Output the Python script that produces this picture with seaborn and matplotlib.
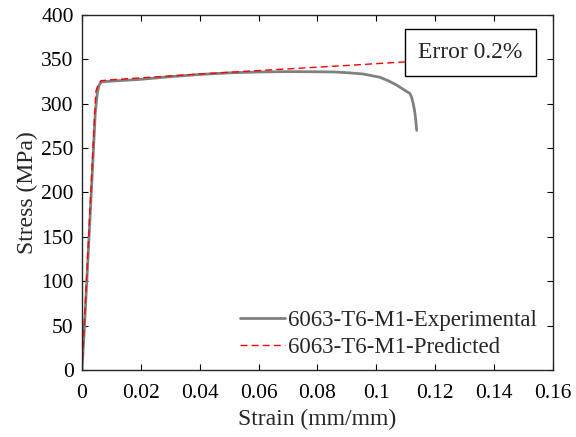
import numpy as np
import pandas as pd
import seaborn as sns
import matplotlib.pyplot as plt

# ---------------------------------------------------------
# DATA
# ---------------------------------------------------------

exp_strain = [0.0, 0.0010, 0.0030, 0.0045, 0.0052, 0.0058, 0.0065, 0.0080,
              0.010, 0.020, 0.030, 0.040, 0.050, 0.060, 0.070, 0.080,
              0.0856, 0.090, 0.0956, 0.1012, 0.1040, 0.1069, 0.1095, 0.1114,
              0.1120, 0.1125, 0.1130, 0.1134, 0.1137]
exp_stress = [0.0, 60.0, 190.0, 290.0, 312.0, 321.0, 324.5, 325.0,
              325.5, 327.5, 330.5, 333.0, 334.8, 335.8, 336.2, 336.0,
              335.8, 335.0, 333.5, 329.8, 326.0, 321.0, 315.5, 311.5,
              307.0, 300.5, 292.0, 281.0, 270.0]

pred_strain = [0.0, 0.0047, 0.0055, 0.0065, 0.010, 0.040, 0.0893, 0.114]
pred_stress = [0.0, 314.0, 322.0, 326.0, 327.0, 333.5, 343.0, 348.0]

exp_label = "6063-T6-M1-Experimental"
pred_label = "6063-T6-M1-Predicted"
error_text = "Error 0.2%"

x_ticks = [0, 0.02, 0.04, 0.06, 0.08, 0.1, 0.12, 0.14, 0.16]
x_tick_labels = ["0", "0.02", "0.04", "0.06", "0.08", "0.1", "0.12", "0.14", "0.16"]
y_ticks = [0, 50, 100, 150, 200, 250, 300, 350, 400]

# ---------------------------------------------------------
# PLOT
# ---------------------------------------------------------

sns.set_style("ticks")
plt.rcParams["font.family"] = ["Liberation Serif", "DejaVu Serif"]

df_exp = pd.DataFrame({"Strain": exp_strain, "Stress": exp_stress})
df_pred = pd.DataFrame({"Strain": pred_strain, "Stress": pred_stress})

fig = plt.figure(figsize=(5.76, 4.37), dpi=100)
ax = fig.add_axes([0.1424, 0.1533, 0.8176, 0.8124])

sns.lineplot(data=df_exp, x="Strain", y="Stress", sort=False, estimator=None,
             color="#808080", linewidth=2.0, label=exp_label, ax=ax)
sns.lineplot(data=df_pred, x="Strain", y="Stress", sort=False, estimator=None,
             color="#ff0000", linewidth=1.0, linestyle=(0, (5, 3)),
             label=pred_label, ax=ax)

ax.set_xlim(0, 0.16)
ax.set_ylim(0, 400)
ax.set_xticks(x_ticks)
ax.set_xticklabels(x_tick_labels)
ax.set_yticks(y_ticks)
ax.tick_params(direction="in", top=True, right=True, length=4, width=0.8,
               labelsize=15.5, colors="black")
ax.tick_params(axis="x", pad=10)
ax.tick_params(axis="y", pad=6)
for side in ["top", "right", "bottom", "left"]:
    ax.spines[side].set_visible(True)
    ax.spines[side].set_color("#262626")
    ax.spines[side].set_linewidth(1.0)

ax.set_xlabel("Strain (mm/mm)", fontsize=17, labelpad=4)
ax.set_ylabel("Stress (MPa)", fontsize=17, labelpad=2)

ax.legend(loc="lower right", frameon=False, fontsize=16.5, handlelength=1.95,
          handletextpad=0.12, borderaxespad=0.0, borderpad=0.0,
          labelspacing=0.25, bbox_to_anchor=(0.965, 0.035))

ax.text(0.132, 357.5, error_text, fontsize=17, ha="center", va="center",
        zorder=10,
        bbox=dict(boxstyle="square,pad=0.55", facecolor="white",
                  edgecolor="black", linewidth=1.0))

fig.savefig("out.png", dpi=100)
